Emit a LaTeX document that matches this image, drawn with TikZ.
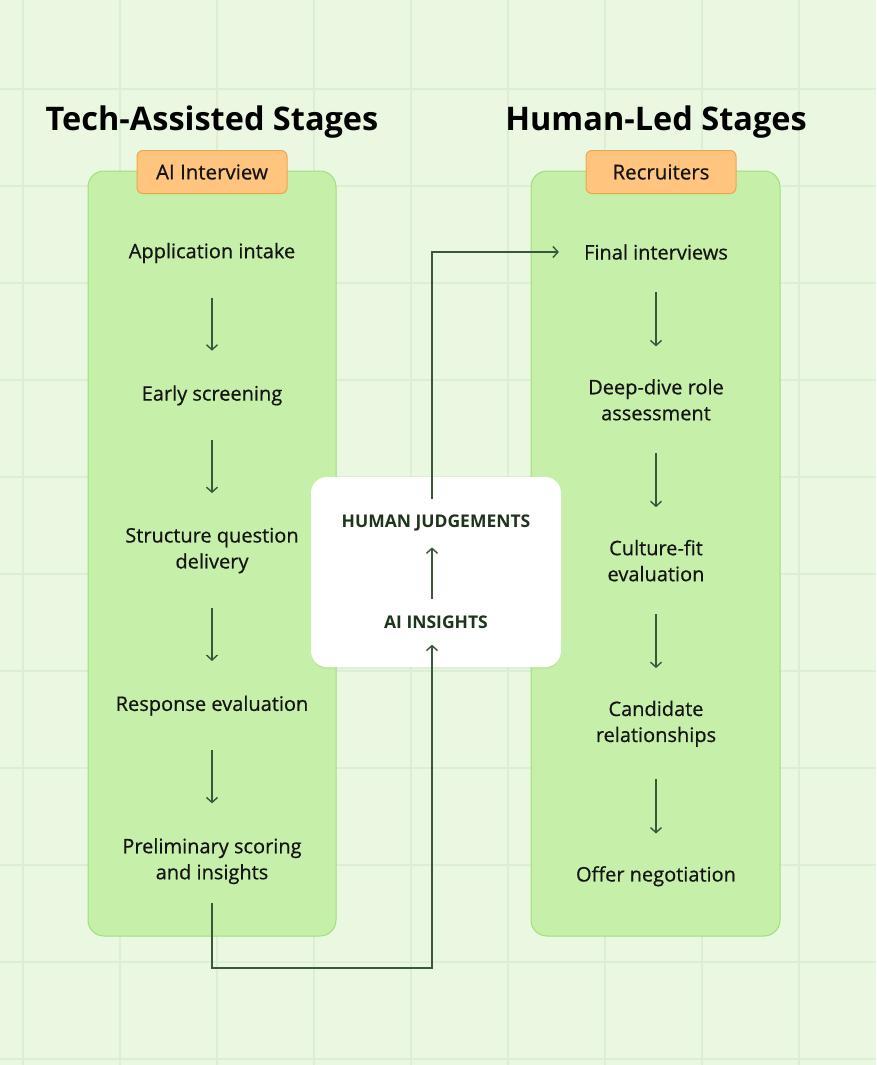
\documentclass[tikz,border=0pt]{standalone}
\usepackage{fontspec}
\setmainfont{Open Sans}
\newfontfamily\stagefont{Open Sans}[FakeBold=0.6]
\usepackage{tikz}
\usetikzlibrary{positioning,arrows.meta,calc,shadows}
\definecolor{paper}{HTML}{EAF8E2}
\definecolor{gridline}{HTML}{DCEED3}
\definecolor{leaf}{HTML}{C6EFA9}
\definecolor{leafedge}{HTML}{9FDF7B}
\definecolor{apricot}{HTML}{FFC47E}
\definecolor{apricotedge}{HTML}{EEA64E}
\definecolor{pine}{HTML}{3B573B}
\definecolor{ink}{HTML}{141414}
\definecolor{forest}{HTML}{1C351C}

\begin{document}
\begin{tikzpicture}[
  x=1pt, y=-1pt,
  node distance=53pt,
  title/.style={font=\fontsize{32.5}{38}\selectfont\bfseries, text=black},
  panel/.style={draw=leafedge, fill=leaf, line width=1pt, rounded corners=16pt,
                minimum width=248pt, minimum height=765pt},
  tag/.style={draw=apricotedge, fill=apricot, line width=1pt, rounded corners=6pt,
              minimum width=150pt, minimum height=43pt, font=\stagefont\fontsize{20.5}{24}\selectfont, text=ink},
  card/.style={fill=white, rounded corners=16pt, minimum width=250pt, minimum height=190pt,
               drop shadow={opacity=0.08, shadow xshift=0pt, shadow yshift=-2pt}},
  stage/.style={align=center, inner xsep=0pt, inner ysep=34.5pt, font=\stagefont\fontsize{20}{26}\selectfont, text=ink},
  signal/.style={inner xsep=0pt, inner ysep=16pt, font=\fontsize{17.5}{20}\selectfont\bfseries, text=forest},
  flow/.style={-{Straight Barb[length=5pt,width=11pt]}, line width=1.4pt, draw=pine}
]
\useasboundingbox (0,0) rectangle (876,1065);
\fill[paper] (0,0) rectangle (876,1065);
\foreach \gx in {23,120,...,799} \draw[gridline, line width=1.5pt] (\gx,0) -- (\gx,1065);
\foreach \gy in {89,186,...,1059} \draw[gridline, line width=1.5pt] (0,\gy) -- (876,\gy);

\node[title] (techtitle) at (212,122) {Tech-Assisted Stages};
\node[title] (humantitle) at (656,122) {Human-Led Stages};

\node[panel] (techpanel) at (212,553.5) {};
\node[panel, minimum width=249pt] (humanpanel) at (655.5,553.5) {};
\node[tag] (aitag) at ([yshift=-1.5pt]techpanel.north) {AI Interview};
\node[tag] (recruitertag) at ([xshift=5.5pt,yshift=-1.5pt]humanpanel.north) {Recruiters};

\node[stage] (intake) at (212,253) {Application intake};
\node[stage, below=of intake] (screening) {Early screening};
\node[stage, below=of screening] (delivery) {Structure question\\delivery};
\node[stage, below=of delivery] (response) {Response evaluation};
\node[stage, below=of response] (prelim) {Preliminary scoring\\and insights};

\begin{scope}[node distance=54pt, stage/.append style={inner ysep=32.5pt}]
\node[stage] (final) at (656,252) {Final interviews};
\node[stage, below=of final] (deepdive) {Deep-dive role\\assessment};
\node[stage, below=of deepdive] (culture) {Culture-fit\\evaluation};
\node[stage, below=of culture] (candidate) {Candidate\\relationships};
\node[stage, below=of candidate] (offer) {Offer negotiation};
\end{scope}

\node[card] (insightcard) at (436,572) {};
\node[signal] (aiins) at (436,622) {AI INSIGHTS};
\node[signal] (humanj) at (436,523) {HUMAN JUDGEMENTS};
\coordinate (lowturn) at (432,968);

\draw[flow] (intake) -- (screening);
\draw[flow] (screening) -- (delivery);
\draw[flow] (delivery) -- (response);
\draw[flow] (response) -- (prelim);

\draw[flow] (final) -- (deepdive);
\draw[flow] (deepdive) -- (culture);
\draw[flow] (culture) -- (candidate);
\draw[flow] (candidate) -- (offer);

\draw[flow] ($(prelim.center)+(0,42)$) |- (lowturn) -- (aiins.south -| lowturn);
\draw[flow] (aiins.north -| lowturn) -- (humanj.south -| lowturn);
\draw[flow, shorten >=25pt] (humanj.north -| lowturn) |- (final.west);
\end{tikzpicture}
\end{document}
